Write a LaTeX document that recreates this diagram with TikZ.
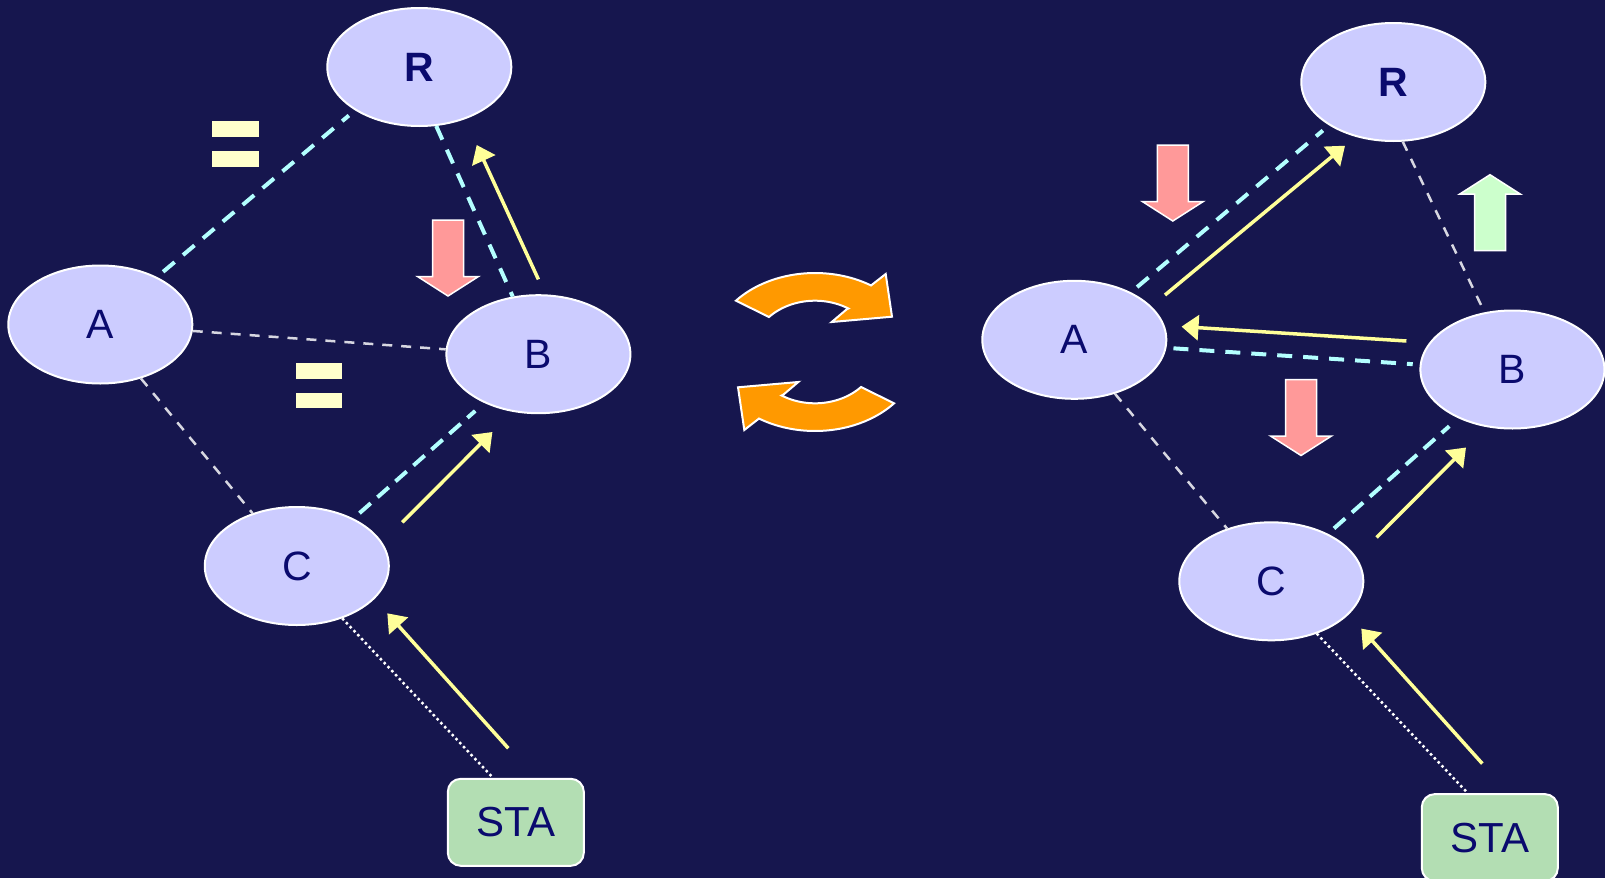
\documentclass[tikz,border=0pt]{standalone}
\usepackage{fontspec}
\setmainfont{Liberation Sans}
\usetikzlibrary{shapes.geometric,arrows.meta,calc}
\definecolor{bgc}{RGB}{22,22,78}
\definecolor{nodefill}{RGB}{204,204,255}
\definecolor{navy}{RGB}{10,10,110}
\definecolor{stafill}{RGB}{179,222,179}
\definecolor{cyanc}{RGB}{179,255,255}
\definecolor{greyc}{RGB}{215,215,225}
\definecolor{yellowc}{RGB}{255,255,153}
\definecolor{paleyel}{RGB}{255,255,204}
\definecolor{redc}{RGB}{255,153,153}
\definecolor{greenc}{RGB}{204,255,204}
\definecolor{orangec}{RGB}{255,153,0}
\begin{document}
\begin{tikzpicture}[x=1pt,y=-1pt,
  station/.style={ellipse, draw=white, line width=2pt, fill=nodefill, minimum width=184pt, minimum height=118pt, inner sep=0pt, text=navy, font=\fontsize{41}{49}\selectfont},
  stabox/.style={rectangle, rounded corners=13pt, draw=white, line width=2pt, fill=stafill, minimum width=136pt, minimum height=87pt, inner sep=0pt, text=navy, font=\fontsize{42}{50}\selectfont},
  cyandash/.style={draw=cyanc, line width=4pt, dash pattern=on 15pt off 11pt},
  cyandashb/.style={draw=cyanc, line width=4pt, dash pattern=on 15pt off 9pt},
  greydash/.style={draw=greyc, line width=2.5pt, dash pattern=on 10pt off 9pt},
  dotline/.style={draw=white, line width=2.5pt, dash pattern=on 2.5pt off 3pt},
  yarrow/.style={draw=yellowc, line width=3.5pt, -{Triangle[length=17pt,width=25pt,fill=yellowc]}},
  eqbar/.style={fill=paleyel},
  blockst/.style={draw=white, line width=1.5pt},
  orangest/.style={fill=orangec, draw=white, line width=2pt, line join=miter},
  blkdown/.pic={\path[pic actions] (-15.5,0) -- (15.5,0) -- (15.5,56.5) -- (30.5,56.5) -- (0,76) -- (-30.5,56.5) -- (-15.5,56.5) -- cycle;}
]
\useasboundingbox (0,0) rectangle (1605,878);
\fill[bgc] (0,0) rectangle (1605,878);

% ---------------- left panel ----------------
\node[station] (LR) at (419.3,67) {\bfseries R};
\node[station] (LA) at (100.3,324.5) {A};
\node[station] (LB) at (538.4,354.2) {B};
\node[station] (LC) at (296.8,566) {C};
\node[stabox] (LS) at (515.8,822.3) {STA};

\draw[cyandash, shorten <=8pt, shorten >=8pt] (LA.40) -- (LR.214);
\draw[cyandash] (LR.286) -- (LB.114);
\draw[greydash] (LA.356) -- (LB.177);
\draw[greydash] (LA.307) -- (LC.130);
\draw[cyandashb, shorten <=8pt, shorten >=12pt] (LC.40) -- (LB.222);
\draw[dotline] (LC.311) -- ($(LS.north west)!0.335!(LS.north east)$);

\coordinate (ly1s) at (538.4,279.4); \coordinate (ly1e) at (476.7,145);
\coordinate (ly2s) at (402.3,522.3); \coordinate (ly2e) at (492.4,432);
\coordinate (ly3s) at (508.3,748.3); \coordinate (ly3e) at (387.3,613.3);
\draw[yarrow] (ly1s) -- (ly1e);
\draw[yarrow] (ly2s) -- (ly2e);
\draw[yarrow] (ly3s) -- (ly3e);

\fill[eqbar] (212.3,121) rectangle (259.3,137.3);
\fill[eqbar] (212.3,150.7) rectangle (259.3,167.3);
\fill[eqbar] (295.8,363.4) rectangle (341.9,378.7);
\fill[eqbar] (295.8,393) rectangle (341.9,408.4);

\pic[blockst, fill=redc] at (448,220) {blkdown};

% ---------------- middle circular arrows ----------------
\path[orangest] plot[domain=139.5:57.4, samples=40] ({815+104*cos(\x)},{352-79*sin(\x)})
  -- (885.7,274) -- (892,316.7) -- (831.7,322) -- (846.7,309.3)
  -- plot[domain=58:137, samples=40] ({815+62.9*cos(\x)},{352-51.3*sin(\x)}) -- cycle;
\begin{scope}[rotate around={180:(815,352)}]
\path[orangest] plot[domain=139.5:57.4, samples=40] ({815+104*cos(\x)},{352-79*sin(\x)})
  -- (885.7,274) -- (892,316.7) -- (831.7,322) -- (846.7,309.3)
  -- plot[domain=58:137, samples=40] ({815+62.9*cos(\x)},{352-51.3*sin(\x)}) -- cycle;
\end{scope}

% ---------------- right panel ----------------
\node[station] (RR) at (1393.3,82) {\bfseries R};
\node[station] (RA) at (1074.3,339.8) {A};
\node[station] (RB) at (1512.4,369.5) {B};
\node[station] (RC) at (1271.3,581.3) {C};
\node[stabox] (RS) at (1489.8,837.6) {STA};

\draw[cyandash, shorten <=8pt, shorten >=8pt] (RA.40) -- (RR.214);
\draw[greydash, shorten >=8pt] (RR.279) -- (RB.116);
\draw[cyandash, shorten <=7pt, shorten >=7pt] (RA.355) -- (RB.177);
\draw[greydash] (RA.307) -- (RC.130);
\draw[cyandashb, shorten <=8pt, shorten >=12pt] (RC.40) -- (RB.222);
\draw[dotline] (RC.311) -- ($(RS.north west)!0.34!(RS.north east)$);

\coordinate (ry1s) at (1165,295);     \coordinate (ry1e) at (1345,145.7);
\coordinate (ry2s) at (1406.4,341);   \coordinate (ry2e) at (1181.5,326.6);
\coordinate (ry3s) at (1376.5,537.5); \coordinate (ry3e) at (1466,447.5);
\coordinate (ry4s) at (1482.3,763.6); \coordinate (ry4e) at (1361.3,628.6);
\draw[yarrow] (ry1s) -- (ry1e);
\draw[yarrow] (ry2s) -- (ry2e);
\draw[yarrow] (ry3s) -- (ry3e);
\draw[yarrow] (ry4s) -- (ry4e);

\pic[blockst, fill=redc] at (1172.8,145) {blkdown};
\pic[blockst, fill=redc] at (1301,379.5) {blkdown};
\pic[blockst, fill=greenc, yscale=-1] at (1490,250.7) {blkdown};
\end{tikzpicture}
\end{document}
